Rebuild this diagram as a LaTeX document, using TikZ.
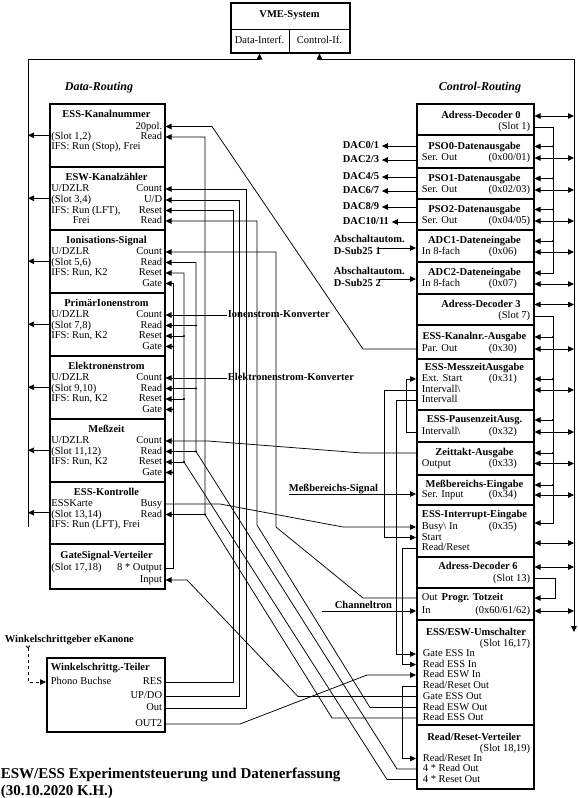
\documentclass[tikz,border=0pt]{standalone}
\usepackage{fontspec}
\setmainfont{Liberation Serif}
\usepackage{tikz}
\usetikzlibrary{arrows.meta}

\begin{document}
\begin{tikzpicture}[
    x=1pt, y=-1pt, line width=0.75pt,
    every node/.style={font=\fontsize{10.5}{10.6}\selectfont, inner sep=0.5pt, text height=7pt, text depth=2pt},
    box/.style={draw, line width=1.5pt, anchor=north west, inner sep=0pt},
    ttl/.style={font=\bfseries\fontsize{10.5}{10.6}\selectfont},
    head/.style={font=\bfseries\itshape\fontsize{12}{14}\selectfont},
    big/.style={font=\bfseries\fontsize{15}{17}\selectfont, anchor=base west},
    lt/.style={anchor=west},
    rt/.style={anchor=east},
    sig/.style={-{Triangle[length=6pt, width=5.5pt]}},
    dsig/.style={{Triangle[length=6pt, width=5.5pt]}-{Triangle[length=6pt, width=5.5pt]}}
]
\useasboundingbox (0,0) rectangle (578,798);

% VME crate
\node[box, minimum width=119pt, minimum height=50pt] (vme) at (230,2) {};
\node[ttl] (vme-t) at (289.5,15) {VME-System};
\node (vme-di) at (259.5,41) {Data-Interf.};
\node (vme-ci) at (319.5,41) {Control-If.};
\coordinate (vme-split) at (289.5,29);
\draw (vme.west |- vme-split) -- (vme.east |- vme-split);
\draw (vme-split) -- (vme-split |- vme.south);

\node[head] (drout) at (99,88) {Data-Routing};
\node[head] (crout) at (480,88) {Control-Routing};

% main data and control lines
\coordinate (top) at (0,59);
\coordinate (dbus) at (28,527);
\coordinate (cbus) at (574,632);
\draw[sig] (dbus) -- (dbus |- top) -- (vme-di |- top) -- (vme-di |- vme.south);
\draw[dsig] (vme-ci |- vme.south) -- (vme-ci |- top) -- (cbus |- top) -- (cbus);

% Data-Routing column
\node[box, minimum width=115pt, minimum height=63pt] (kn) at (49,103) {};
\node[ttl] (kn-t) at (106.5,115) {ESS-Kanalnummer};
\node[rt] (kn-20) at (163,126.5) {20pol.};
\node[lt] (kn-slot) at (50.5,137) {(Slot 1,2)};
\node[rt] (kn-rd) at (163,137) {Read};
\node[lt] (kn-ifs) at (50.5,147) {IFS: Run (Stop), Frei};

\node[box, minimum width=115pt, minimum height=63pt] (kz) at (49,166) {};
\node[ttl] (kz-t) at (106.5,178) {ESW-Kanalzähler};
\node[lt] (kz-typ) at (50.5,189) {U/DZLR};
\node[rt] (kz-cnt) at (163,189) {Count};
\node[lt] (kz-slot) at (50.5,200) {(Slot 3,4)};
\node[rt] (kz-ud) at (163,200) {U/D};
\node[lt] (kz-ifs) at (50.5,210.5) {IFS: Run (LFT),};
\node[rt] (kz-res) at (163,210.5) {Reset};
\node[lt] (kz-frei) at (72,221) {Frei};
\node[rt] (kz-rd) at (163,221) {Read};

\node[box, minimum width=115pt, minimum height=63pt] (ion) at (49,229) {};
\node[ttl] (ion-t) at (106.5,241) {Ionisations-Signal};
\node[lt] (ion-typ) at (50.5,252) {U/DZLR};
\node[rt] (ion-cnt) at (163,252) {Count};
\node[lt] (ion-slot) at (50.5,262.5) {(Slot 5,6)};
\node[rt] (ion-rd) at (163,262.5) {Read};
\node[lt] (ion-ifs) at (50.5,273) {IFS: Run, K2};
\node[rt] (ion-res) at (163,273) {Reset};
\node[rt] (ion-gate) at (163,283.5) {Gate};

\node[box, minimum width=115pt, minimum height=63pt] (pri) at (49,292) {};
\node[ttl] (pri-t) at (106.5,304) {PrimärIonenstrom};
\node[lt] (pri-typ) at (50.5,315) {U/DZLR};
\node[rt] (pri-cnt) at (163,315) {Count};
\node[lt] (pri-slot) at (50.5,325.5) {(Slot 7,8)};
\node[rt] (pri-rd) at (163,325.5) {Read};
\node[lt] (pri-ifs) at (50.5,336) {IFS: Run, K2};
\node[rt] (pri-res) at (163,336) {Reset};
\node[rt] (pri-gate) at (163,346.5) {Gate};

\node[box, minimum width=115pt, minimum height=63pt] (ele) at (49,355) {};
\node[ttl] (ele-t) at (106.5,367) {Elektronenstrom};
\node[lt] (ele-typ) at (50.5,378) {U/DZLR};
\node[rt] (ele-cnt) at (163,378) {Count};
\node[lt] (ele-slot) at (50.5,388.5) {(Slot 9,10)};
\node[rt] (ele-rd) at (163,388.5) {Read};
\node[lt] (ele-ifs) at (50.5,399) {IFS: Run, K2};
\node[rt] (ele-res) at (163,399) {Reset};
\node[rt] (ele-gate) at (163,409.5) {Gate};

\node[box, minimum width=115pt, minimum height=63pt] (mz) at (49,418) {};
\node[ttl] (mz-t) at (106.5,430) {Meßzeit};
\node[lt] (mz-typ) at (50.5,441) {U/DZLR};
\node[rt] (mz-cnt) at (163,441) {Count};
\node[lt] (mz-slot) at (50.5,451.5) {(Slot 11,12)};
\node[rt] (mz-rd) at (163,451.5) {Read};
\node[lt] (mz-ifs) at (50.5,462) {IFS: Run, K2};
\node[rt] (mz-res) at (163,462) {Reset};
\node[rt] (mz-gate) at (163,472.5) {Gate};

\node[box, minimum width=115pt, minimum height=62pt] (kon) at (49,481) {};
\node[ttl] (kon-t) at (106.5,493) {ESS-Kontrolle};
\node[lt] (kon-typ) at (50.5,504) {ESSKarte};
\node[rt] (kon-busy) at (163,504) {Busy};
\node[lt] (kon-slot) at (50.5,514.5) {(Slot 13,14)};
\node[rt] (kon-rd) at (163,514.5) {Read};
\node[lt] (kon-ifs) at (50.5,525) {IFS: Run (LFT), Frei};

\node[box, minimum width=115pt, minimum height=45pt] (gsv) at (49,543) {};
\node[ttl] (gsv-t) at (106.5,556) {GateSignal-Verteiler};
\node[lt] (gsv-slot) at (50.5,568) {(Slot 17,18)};
\node[rt] (gsv-out) at (163,568) {8 * Output};
\node[rt] (gsv-in) at (163,580) {Input};

% data to the VME
\draw[sig] (kn.west) -- (kn.west -| dbus);
\draw[sig] (kz.west) -- (kz.west -| dbus);
\draw[sig] (ion.west) -- (ion.west -| dbus);
\draw[sig] (pri.west) -- (pri.west -| dbus);
\draw[sig] (ele.west) -- (ele.west -| dbus);
\draw[sig] (mz.west) -- (mz.west -| dbus);
\draw[sig] (kon.west) -- (kon.west -| dbus);

% Winkelschritt divider
\node[ttl, lt] (wsg) at (4,640) {Winkelschrittgeber eKanone};
\node[box, minimum width=118pt, minimum height=74pt] (wst) at (46,657) {};
\node[ttl, lt] (wst-t) at (50,668) {Winkelschrittg.-Teiler};
\node[lt] (wst-pb) at (50,682) {Phono Buchse};
\node[rt] (wst-res) at (163,682) {RES};
\node[rt] (wst-ud) at (163,696) {UP/DO};
\node[rt] (wst-out) at (163,708) {Out};
\node[rt] (wst-out2) at (163,724) {OUT2};
\coordinate (wsg-x) at (28,0);
\draw[dashed, {Straight Barb[reversed, length=2pt, width=4pt]}-{Triangle[length=6pt, width=5.5pt]}] (wsg.south -| wsg-x) -- (wst-pb -| wsg-x) -- (wst-pb -| wst.west);

\node[big] (title1) at (0,778) {ESW/ESS Experimentsteuerung und Datenerfassung};
\node[big] (title2) at (0,795) {(30.10.2020 K.H.)};

% Control-Routing column
\node[box, minimum width=117pt, minimum height=31pt] (ad0) at (416,103) {};
\node[ttl] (ad0-t) at (481,116) {Adress-Decoder 0};
\node[rt] (ad0-slot) at (531,127) {(Slot 1)};

\node[box, minimum width=117pt, minimum height=33pt] (pso0) at (416,134) {};
\node[ttl] (pso0-t) at (474.5,146.5) {PSO0-Datenausgabe};
\node[lt] (pso0-so) at (421,158) {Ser. Out};
\node[rt] (pso0-adr) at (531,158) {(0x00/01)};

\node[box, minimum width=117pt, minimum height=31pt] (pso1) at (416,167) {};
\node[ttl] (pso1-t) at (474.5,178.5) {PSO1-Datenausgabe};
\node[lt] (pso1-so) at (421,190) {Ser. Out};
\node[rt] (pso1-adr) at (531,190) {(0x02/03)};

\node[box, minimum width=117pt, minimum height=31pt] (pso2) at (416,198) {};
\node[ttl] (pso2-t) at (474.5,209.5) {PSO2-Datenausgabe};
\node[lt] (pso2-so) at (421,221) {Ser. Out};
\node[rt] (pso2-adr) at (531,221) {(0x04/05)};

\node[box, minimum width=117pt, minimum height=32pt] (adc1) at (416,229) {};
\node[ttl] (adc1-t) at (474.5,241) {ADC1-Dateneingabe};
\node[lt] (adc1-in) at (421,252) {In 8-fach};
\node[lt] (adc1-adr) at (488,252) {(0x06)};

\node[box, minimum width=117pt, minimum height=32pt] (adc2) at (416,261) {};
\node[ttl] (adc2-t) at (474.5,273) {ADC2-Dateneingabe};
\node[lt] (adc2-in) at (421,284) {In 8-fach};
\node[lt] (adc2-adr) at (488,284) {(0x07)};

\node[box, minimum width=117pt, minimum height=31pt] (ad3) at (416,293) {};
\node[ttl] (ad3-t) at (481,304.5) {Adress-Decoder 3};
\node[rt] (ad3-slot) at (531,316) {(Slot 7)};

\node[box, minimum width=117pt, minimum height=34pt] (kna) at (416,324) {};
\node[ttl] (kna-t) at (474.5,337) {ESS-Kanalnr.-Ausgabe};
\node[lt] (kna-po) at (421,349) {Par. Out};
\node[lt] (kna-adr) at (488,349) {(0x30)};

\node[box, minimum width=117pt, minimum height=51pt] (msa) at (416,358) {};
\node[ttl] (msa-t) at (474.5,368) {ESS-MesszeitAusgabe};
\node[lt] (msa-es) at (421,379) {Ext. Start};
\node[lt] (msa-adr) at (488,379) {(0x31)};
\node[lt] (msa-ivn) at (421,390) {Intervall\textbackslash};
\node[lt] (msa-iv) at (421,400) {Intervall};

\node[box, minimum width=117pt, minimum height=32pt] (psa) at (416,409) {};
\node[ttl] (psa-t) at (474.5,420) {ESS-PausenzeitAusg.};
\node[lt] (psa-ivn) at (421,432) {Intervall\textbackslash};
\node[lt] (psa-adr) at (488,432) {(0x32)};

\node[box, minimum width=117pt, minimum height=33pt] (ztk) at (416,441) {};
\node[ttl] (ztk-t) at (474.5,453) {Zeittakt-Ausgabe};
\node[lt] (ztk-o) at (421,463.5) {Output};
\node[lt] (ztk-adr) at (488,463.5) {(0x33)};

\node[box, minimum width=117pt, minimum height=30pt] (mb) at (416,474) {};
\node[ttl] (mb-t) at (474.5,485) {Meßbereichs-Eingabe};
\node[lt] (mb-si) at (421,495) {Ser. Input};
\node[lt] (mb-adr) at (488,495) {(0x34)};

\node[box, minimum width=117pt, minimum height=52pt] (irq) at (416,504) {};
\node[ttl] (irq-t) at (474.5,515) {ESS-Interrupt-Eingabe};
\node[lt] (irq-busy) at (421,527) {Busy\textbackslash{} In};
\node[lt] (irq-adr) at (488,527) {(0x35)};
\node[lt] (irq-st) at (421,537.5) {Start};
\node[lt] (irq-rr) at (421,548) {Read/Reset};

\node[box, minimum width=117pt, minimum height=31pt] (ad6) at (416,556) {};
\node[ttl] (ad6-t) at (478,567) {Adress-Decoder 6};
\node[rt] (ad6-slot) at (531,578.5) {(Slot 13)};

\node[box, minimum width=117pt, minimum height=32pt] (tot) at (416,587) {};
\node[lt] (tot-out) at (421,598) {Out};
\node[ttl] (tot-t) at (472.5,598) {Progr. Totzeit};
\node[lt] (tot-in) at (421,611) {In};
\node[rt] (tot-adr) at (531,611) {(0x60/61/62)};

\node[box, minimum width=117pt, minimum height=105pt] (ums) at (416,619) {};
\node[ttl] (ums-t) at (476,633) {ESS/ESW-Umschalter};
\node[rt] (ums-slot) at (531,644) {(Slot 16,17)};
\node[lt] (ums-gi) at (422,654) {Gate ESS In};
\node[lt] (ums-ri) at (422,664.5) {Read ESS In};
\node[lt] (ums-rwi) at (422,675) {Read ESW In};
\node[lt] (ums-rro) at (422,686) {Read/Reset Out};
\node[lt] (ums-go) at (422,696.5) {Gate ESS Out};
\node[lt] (ums-rwo) at (422,707.5) {Read ESW Out};
\node[lt] (ums-rso) at (422,718) {Read ESS Out};

\node[box, minimum width=117pt, minimum height=64pt] (rrv) at (416,724) {};
\node[ttl] (rrv-t) at (474,738) {Read/Reset-Verteiler};
\node[rt] (rrv-slot) at (531,748.5) {(Slot 18,19)};
\node[lt] (rrv-rri) at (422,758.5) {Read/Reset In};
\node[lt] (rrv-rdo) at (422,769) {4 * Read Out};
\node[lt] (rrv-rso) at (422,779.5) {4 * Reset Out};

% control bus to the VME
\coordinate (irq-dbl) at (0,543);
\draw[dsig] (ad0-t -| ad0.east) -- (ad0-t -| cbus);
\draw[dsig] (pso0-so -| pso0.east) -- (pso0-so -| cbus);
\draw[dsig] (pso1-so -| pso1.east) -- (pso1-so -| cbus);
\draw[dsig] (pso2-so -| pso2.east) -- (pso2-so -| cbus);
\draw[dsig] (adc1-in -| adc1.east) -- (adc1-in -| cbus);
\draw[dsig] (adc2-in -| adc2.east) -- (adc2-in -| cbus);
\draw[dsig] (ad3-t -| ad3.east) -- (ad3-t -| cbus);
\draw[dsig] (kna-po -| kna.east) -- (kna-po -| cbus);
\draw[dsig] (msa-ivn -| msa.east) -- (msa-ivn -| cbus);
\draw[dsig] (psa-ivn -| psa.east) -- (psa-ivn -| cbus);
\draw[dsig] (ztk-o -| ztk.east) -- (ztk-o -| cbus);
\draw[dsig] (mb-si -| mb.east) -- (mb-si -| cbus);
\draw[dsig] (irq-dbl -| irq.east) -- (irq-dbl -| cbus);
\draw[dsig] (ad6-t -| ad6.east) -- (ad6-t -| cbus);
\draw[dsig] (tot-in -| tot.east) -- (tot-in -| cbus);

% slot select lines
\coordinate (adbus) at (553,0);
\coordinate (ad6bus) at (555,0);
\coordinate (irq-sgl) at (0,523);
\draw[sig] (ad0-slot -| ad0.east) -- (ad0-slot -| adbus) -- (adc2-t -| adbus) -- (adc2-t -| adc2.east);
\draw[sig] (pso0-t -| adbus) -- (pso0-t -| pso0.east);
\draw[sig] (pso1-t -| adbus) -- (pso1-t -| pso1.east);
\draw[sig] (pso2-t -| adbus) -- (pso2-t -| pso2.east);
\draw[sig] (adc1-t -| adbus) -- (adc1-t -| adc1.east);
\fill (pso0-t -| adbus) circle (1.2pt) (pso1-t -| adbus) circle (1.2pt) (pso2-t -| adbus) circle (1.2pt) (adc1-t -| adbus) circle (1.2pt);
\draw[sig] (ad3-slot -| ad3.east) -- (ad3-slot -| adbus) -- (irq-sgl -| adbus) -- (irq-sgl -| irq.east);
\draw[sig] (kna-t -| adbus) -- (kna-t -| kna.east);
\draw[sig] (msa-es -| adbus) -- (msa-es -| msa.east);
\draw[sig] (psa-t -| adbus) -- (psa-t -| psa.east);
\draw[sig] (ztk-t -| adbus) -- (ztk-t -| ztk.east);
\draw[sig] (mb-t -| adbus) -- (mb-t -| mb.east);
\fill (kna-t -| adbus) circle (1.2pt) (msa-es -| adbus) circle (1.2pt) (psa-t -| adbus) circle (1.2pt) (ztk-t -| adbus) circle (1.2pt) (mb-t -| adbus) circle (1.2pt);
\draw[sig] (ad6-slot -| ad6.east) -- (ad6-slot -| ad6bus) -- (tot-out -| ad6bus) -- (tot-out -| tot.east);

% DAC outputs and ADC inputs
\node[ttl, lt] (dac01) at (342,146) {DAC0/1};
\node[ttl, lt] (dac23) at (342,160) {DAC2/3};
\node[ttl, lt] (dac45) at (342,177) {DAC4/5};
\node[ttl, lt] (dac67) at (342,191) {DAC6/7};
\node[ttl, lt] (dac89) at (342,207) {DAC8/9};
\node[ttl, lt] (dac1011) at (342,222) {DAC10/11};
\draw[sig] (dac01 -| pso0.west) -- ([xshift=2pt]dac01.east);
\draw[sig] (dac23 -| pso0.west) -- ([xshift=2pt]dac23.east);
\draw[sig] (dac45 -| pso1.west) -- ([xshift=2pt]dac45.east);
\draw[sig] (dac67 -| pso1.west) -- ([xshift=2pt]dac67.east);
\draw[sig] (dac89 -| pso2.west) -- ([xshift=2pt]dac89.east);
\draw[sig] (dac1011 -| pso2.west) -- ([xshift=2pt]dac1011.east);

\node[ttl, lt] (abs1) at (333,240) {Abschaltautom.};
\node[ttl, lt] (abs1-d) at (333,252) {D-Sub25 1};
\node[ttl, lt] (abs2) at (333,272) {Abschaltautom.};
\node[ttl, lt] (abs2-d) at (333,284) {D-Sub25 2};
\coordinate (abs1-a) at (379,248);
\coordinate (abs2-a) at (379,279);
\draw[sig] (abs1-a) -- (abs1-a -| adc1.west);
\draw[sig] (abs2-a) -- (abs2-a -| adc2.west);

% external signals
\node[ttl, lt] (ik) at (227,315) {Ionenstrom-Konverter};
\node[ttl, lt] (ek) at (227,378) {Elektronenstrom-Konverter};
\draw[sig] (ik.west) -- (ik.west -| pri.east);
\draw[sig] (ek.west) -- (ek.west -| ele.east);
\coordinate (msig) at (289,494);
\draw[sig] (msig) -- node[ttl, above, pos=0.35] (msig-l) {Meßbereichs-Signal} (msig -| mb.west);
\coordinate (chan) at (322,611);
\draw[sig] (chan) -- node[ttl, above, pos=0.44] (chan-l) {Channeltron} (chan -| tot.west);

% loops on the control side
\coordinate (loopa) at (406,0);
\coordinate (loopb) at (384,0);
\coordinate (loopc) at (396,0);
\coordinate (loopd) at (402.5,0);
\draw[sig] (psa-ivn -| psa.west) -- (psa-ivn -| loopa) -- (msa-es -| loopa) -- (msa-es -| msa.west);
\draw[sig] (msa-ivn -| msa.west) -- (msa-ivn -| loopb) -- (irq-st -| loopb) -- (irq-st -| irq.west);
\draw[sig] (msa-iv -| msa.west) -- (msa-iv -| loopc) -- (ums-gi -| loopc) -- (ums-gi -| ums.west);
\draw[sig] (irq-rr -| irq.west) -- (irq-rr -| loopd) -- (ums-ri -| loopd) -- (ums-ri -| ums.west);
\draw[sig] (ums-rro -| ums.west) -- (ums-rro -| loopd) -- (rrv-rri -| loopd) -- (rrv-rri -| rrv.west);

% wiring between the columns
\coordinate (gbus) at (173,0);
\coordinate (rsbus) at (184,0);
\coordinate (rdbus) at (196,0);
\coordinate (essbus) at (205,0);
\coordinate (wres) at (233,0);
\coordinate (wud) at (239.5,0);
\coordinate (wcnt) at (246,0);
\coordinate (wrd) at (257,0);
\coordinate (icnt) at (276,0);
\coordinate (kn-bend) at (212,0);
\coordinate (kna-bend) at (363,0);
\coordinate (mz-bend) at (208,0);
\coordinate (ztk-bend) at (362,0);
\coordinate (busy-bend) at (220,0);
\coordinate (irq-bend) at (343,0);
\coordinate (in-bend) at (187,0);
\coordinate (go-bend) at (298,0);
\coordinate (rso-bend) at (387,0);
\coordinate (rdo-bend) at (397,0);
\coordinate (rse-bend) at (332,0);
\coordinate (rwo-bend) at (370,0);
\coordinate (wrd-end) at (257,525);
\coordinate (o2-bend) at (240,0);
\coordinate (rwi-bend) at (367,0);
\coordinate (tot-bend) at (363,0);
\coordinate (icnt-end) at (276,527);

\draw[sig] (kna-po -| kna.west) -- (kna-po -| kna-bend) -- (kn-20 -| kn-bend) -- (kn-20 -| kn.east);
\draw[sig] (ztk-t -| ztk.west) -- (ztk-t -| ztk-bend) -- (mz-cnt -| mz-bend) -- (mz-cnt -| mz.east);
\draw[sig] (kon-busy -| kon.east) -- (kon-busy -| busy-bend) -- (irq-busy -| irq-bend) -- (irq-busy -| irq.west);
\draw[sig] (ums-go -| ums.west) -- (ums-go -| go-bend) -- (gsv-in -| in-bend) -- (gsv-in -| gsv.east);

% gate distribution
\draw[sig] (gsv-out -| gsv.east) -- (gsv-out -| gbus) -- (ion-gate -| gbus) -- (ion-gate -| ion.east);
\draw[sig] (pri-gate -| gbus) -- (pri-gate -| pri.east);
\draw[sig] (ele-gate -| gbus) -- (ele-gate -| ele.east);
\draw[sig] (mz-gate -| gbus) -- (mz-gate -| mz.east);
\fill (pri-gate -| gbus) circle (1.2pt) (ele-gate -| gbus) circle (1.2pt) (mz-gate -| gbus) circle (1.2pt);

% reset and read distribution
\draw[sig] (rrv-rso -| rrv.west) -- (rrv-rso -| rso-bend) -- (mz-res -| rsbus) -- (ion-res -| rsbus) -- (ion-res -| ion.east);
\draw[sig] (pri-res -| rsbus) -- (pri-res -| pri.east);
\draw[sig] (ele-res -| rsbus) -- (ele-res -| ele.east);
\draw[sig] (mz-res -| rsbus) -- (mz-res -| mz.east);
\fill (pri-res -| rsbus) circle (1.2pt) (ele-res -| rsbus) circle (1.2pt) (mz-res -| rsbus) circle (1.2pt);
\draw[sig] (rrv-rdo -| rrv.west) -- (rrv-rdo -| rdo-bend) -- (mz-rd -| rdbus) -- (ion-rd -| rdbus) -- (ion-rd -| ion.east);
\draw[sig] (pri-rd -| rdbus) -- (pri-rd -| pri.east);
\draw[sig] (ele-rd -| rdbus) -- (ele-rd -| ele.east);
\draw[sig] (mz-rd -| rdbus) -- (mz-rd -| mz.east);
\fill (pri-rd -| rdbus) circle (1.2pt) (ele-rd -| rdbus) circle (1.2pt) (mz-rd -| rdbus) circle (1.2pt);
\draw[sig] (ums-rso -| ums.west) -- (ums-rso -| rse-bend) -- (kon-rd -| essbus) -- (kn-rd -| essbus) -- (kn-rd -| kn.east);
\draw[sig] (kon-rd -| essbus) -- (kon-rd -| kon.east);
\fill (kon-rd -| essbus) circle (1.2pt);

% ESW channel counter
\draw[sig] (ums-rwo -| ums.west) -- (ums-rwo -| rwo-bend) -- (wrd-end) -- (kz-rd -| wrd) -- (kz-rd -| kz.east);
\draw[sig] (wst-res -| wst.east) -- (wst-res -| wres) -- (kz-res -| wres) -- (kz-res -| kz.east);
\draw[sig] (wst-ud -| wst.east) -- (wst-ud -| wud) -- (kz-ud -| wud) -- (kz-ud -| kz.east);
\draw[sig] (wst-out -| wst.east) -- (wst-out -| wcnt) -- (kz-cnt -| wcnt) -- (kz-cnt -| kz.east);
\draw[sig] (wst-out2 -| wst.east) -- (wst-out2 -| o2-bend) -- (ums-rwi -| rwi-bend) -- (ums-rwi -| ums.west);

% dead time output
\draw[sig] (tot-out -| tot.west) -- (tot-out -| tot-bend) -- (icnt-end) -- (ion-cnt -| icnt) -- (ion-cnt -| ion.east);

\end{tikzpicture}
\end{document}
